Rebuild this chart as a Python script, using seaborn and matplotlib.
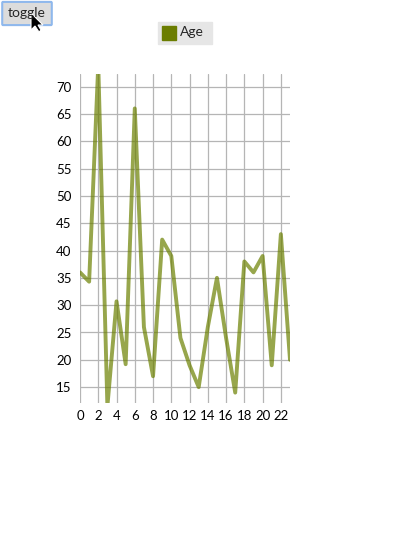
import pandas as pd
import matplotlib.pyplot as plt
import matplotlib.patches as mpatches
import seaborn as sns

# data
index = list(range(24))
age = [36, 34.3, 74, 11.5, 30.7, 19.2, 66, 26, 17, 42, 39, 24,
       19, 15, 26, 35, 24, 14, 38, 36, 39, 19, 43, 20]
y_ticks = [15, 20, 25, 30, 35, 40, 45, 50, 55, 60, 65, 70]
x_ticks = list(range(0, 23, 2))

df = pd.DataFrame({"index": index, "Age": age})

sns.set_style("white")
plt.rcParams['font.family'] = ['Lato', 'DejaVu Sans']

fig = plt.figure(figsize=(3.93, 5.45), dpi=100)
ax = fig.add_axes([80 / 393, 142 / 545, 210 / 393, 329 / 545])

sns.lineplot(data=df, x="index", y="Age", ax=ax, color="#6b8000",
             alpha=0.7, linewidth=2.8)

ax.set_xlim(0, 23)
ax.set_ylim(12.1, 72.3)
ax.set_xticks(x_ticks)
ax.set_yticks(y_ticks)
ax.grid(True, color="#b5b5b5", linewidth=0.9)
ax.set_axisbelow(True)
for s in ax.spines.values():
    s.set_visible(False)
ax.tick_params(axis="both", labelsize=9.5, colors="black", length=4,
               width=0.8, direction="out", pad=2)
ax.tick_params(axis="x", length=3)
ax.set_xlabel("")
ax.set_ylabel("")

# legend box
fig.patches.append(mpatches.Rectangle((158 / 393, 1 - 44 / 545), 54 / 393, 22 / 545,
                                      transform=fig.transFigure, color="#e6e6e6"))
fig.patches.append(mpatches.Rectangle((162 / 393, 1 - 40 / 545), 14 / 393, 14 / 545,
                                      transform=fig.transFigure, color="#6b7d00"))
fig.text(180 / 393, 1 - 32 / 545, "Age", fontsize=10, va="center", ha="left")

# toggle button
fig.patches.append(mpatches.FancyBboxPatch((3 / 393, 1 - 24 / 545), 48 / 393, 21 / 545,
                                           boxstyle="round,pad=0.002",
                                           transform=fig.transFigure,
                                           facecolor="#dcdcdc", edgecolor="#8fb8ec",
                                           linewidth=1.5))
fig.text(27 / 393, 1 - 13 / 545, "toggle", fontsize=10, va="center", ha="center")
# mouse cursor
fig.patches.append(mpatches.Polygon([(31 / 393, 1 - 13 / 545), (31 / 393, 1 - 30 / 545),
                                     (35 / 393, 1 - 26 / 545), (39 / 393, 1 - 32 / 545),
                                     (41 / 393, 1 - 30 / 545), (38 / 393, 1 - 25 / 545),
                                     (43 / 393, 1 - 25 / 545)],
                                    closed=True, transform=fig.transFigure,
                                    facecolor="black", edgecolor="white", linewidth=0.8))

plt.savefig("out.png", dpi=100)
